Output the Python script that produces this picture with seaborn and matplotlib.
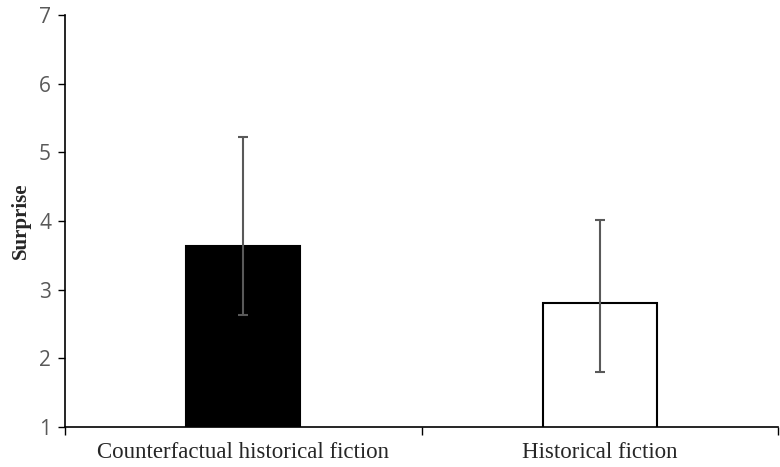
import numpy as np
import pandas as pd
import matplotlib
matplotlib.use('Agg')
import matplotlib.pyplot as plt
import seaborn as sns

# mean surprise ratings per condition, with error bar ends
conditions = ['Counterfactual historical fiction', 'Historical fiction']
means = [3.64, 2.81]
err_low = [2.63, 1.80]
err_high = [5.22, 4.01]
bar_colors = ['black', 'white']

df = pd.DataFrame({'condition': conditions, 'surprise': means})

sns.set_style('white')
fig = plt.figure(figsize=(7.8, 4.67), dpi=100)
ax = fig.add_axes([65/780, 1 - 427/467, (778-65)/780, (427-15)/467])

sns.barplot(data=df, x='condition', y='surprise', hue='condition',
            palette=bar_colors, edgecolor='black', linewidth=1.5,
            width=0.32, legend=False, ax=ax, errorbar=None)

yerr = np.array([np.array(means) - np.array(err_low),
                 np.array(err_high) - np.array(means)])
ax.errorbar(range(len(conditions)), means, yerr=yerr, fmt='none',
            ecolor='#595959', elinewidth=1.5, capsize=3.5, capthick=1.5)

ax.set_ylim(1, 7)
ax.set_xlim(-0.5, 1.5)
ax.set_yticks(range(1, 8))
ax.tick_params(axis='y', direction='out', length=5, width=1, color='black',
               labelsize=15, labelcolor='#595959', left=True, pad=5)
for lab in ax.get_yticklabels():
    lab.set_family(['Open Sans', 'DejaVu Sans'])

# category boundary ticks on the x axis
ax.set_xticks([-0.5, 0.5, 1.5], minor=True)
ax.tick_params(axis='x', which='minor', direction='out', length=6, width=1,
               color='black', bottom=True)
ax.tick_params(axis='x', which='major', length=0, pad=11)
ax.set_xticklabels(conditions, fontsize=16.5, family='Liberation Serif')

ax.set_xlabel('')
ax.set_ylabel('Surprise', fontsize=15, fontweight='bold',
              family='Liberation Serif', labelpad=6)

sns.despine(ax=ax, top=True, right=True)
ax.spines['left'].set_color('black')
ax.spines['bottom'].set_color('black')
ax.spines['left'].set_linewidth(1.2)
ax.spines['bottom'].set_linewidth(1.2)

fig.savefig('out.png', dpi=100)
